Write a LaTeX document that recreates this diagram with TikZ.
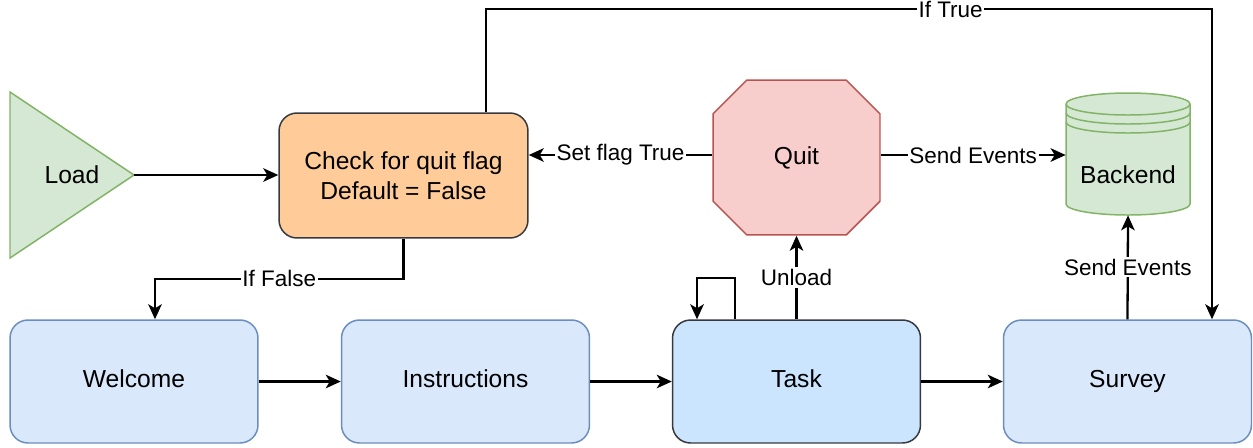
\documentclass[tikz,border=0pt]{standalone}
\usepackage{fontspec}
\setmainfont{Liberation Sans}
\usetikzlibrary{arrows.meta,shapes.misc}

\definecolor{vertfond}{HTML}{D5E8D4}
\definecolor{verttrait}{HTML}{82B366}
\definecolor{bleufond}{HTML}{DAE8FC}
\definecolor{bleutrait}{HTML}{6C8EBF}
\definecolor{tachefond}{HTML}{CCE5FF}
\definecolor{grisfonce}{HTML}{36393D}
\definecolor{orangefond}{HTML}{FFCC99}
\definecolor{rosefond}{HTML}{F8CECC}
\definecolor{rougetrait}{HTML}{B85450}

\begin{document}
\begin{tikzpicture}[x=0.02cm, y=0.02cm,
    etape/.style={draw=bleutrait, fill=bleufond, line width=0.85pt, rounded corners=0.36cm,
        minimum width=4.96cm, minimum height=2.46cm, text height=1.38ex, text depth=0pt,
        font=\fontsize{14}{17}\selectfont},
    fleche/.style={line width=1.3pt, -{Stealth[length=0.3cm, width=0.27cm, inset=0.08cm]}},
    etiq/.style={fill=white, inner sep=1pt, font=\fontsize{12.8}{15}\selectfont}]
        \useasboundingbox (0, 0) rectangle (1253, -447);

        % Triangle de chargement
        \draw[draw=verttrait, fill=vertfond, line width=0.85pt] (10, -92) -- (134, -175) -- (10, -258) -- cycle;
        \node[font=\fontsize{14}{17}\selectfont] (load) at (72, -175) {Load};
        \coordinate (loadtip) at (134, -175);

        % Test du drapeau
        \node[etape, draw=grisfonce, fill=orangefond, minimum width=4.98cm, minimum height=2.5cm,
            text height=, text depth=, align=center] (check) at (403.5, -175.5) {Check for quit flag\\Default = False};

        % Octogone Quit
        \node[chamfered rectangle, chamfered rectangle xsep=0.64cm, chamfered rectangle ysep=0.64cm,
            draw=rougetrait, fill=rosefond, line width=0.85pt, minimum width=3.34cm, minimum height=3.1cm,
            inner sep=0pt, font=\fontsize{14}{17}\selectfont] (quit) at (796.5, -157.5) {Quit};

        % Base de donnees
        \draw[draw=verttrait, fill=vertfond, line width=0.85pt] (1066, -104) -- (1066, -204)
            arc[start angle=180, end angle=360, x radius=62, y radius=11] -- (1190, -104)
            arc[start angle=0, end angle=180, x radius=62, y radius=11] -- cycle;
        \draw[draw=verttrait, line width=0.85pt] (1066, -104) arc[start angle=180, end angle=360, x radius=62, y radius=11];
        \draw[draw=verttrait, line width=0.85pt] (1066, -113) arc[start angle=180, end angle=360, x radius=62, y radius=11];
        \draw[draw=verttrait, line width=0.85pt] (1066, -122) arc[start angle=180, end angle=360, x radius=62, y radius=11];
        \node[minimum width=2.48cm, minimum height=2.44cm] (backend) at (1128, -154) {};
        \node[font=\fontsize{14}{17}\selectfont] (backendtxt) at (1128, -175) {Backend};

        % Etapes du bas
        \node[etape] (welcome) at (134, -381.5) {Welcome};
        \node[etape] (instructions) at (465.5, -381.5) {Instructions};
        \node[etape, draw=grisfonce, fill=tachefond] (task) at (796.5, -381.5) {Task};
        \node[etape] (survey) at (1127.5, -381.5) {Survey};

        % Connexions
        \draw[fleche] (loadtip) -- (loadtip -| check.west);
        \draw[fleche] ([yshift=0.05cm]quit.west) -- ([yshift=0.05cm]quit.west -| check.east) node[etiq, midway] {Set flag True};
        \draw[fleche] ([yshift=0.05cm]quit.east) -- ([yshift=0.05cm]quit.east -| backend.west) node[etiq, midway] {Send Events};
        \draw[fleche] (check.south) -- ++(0, -40) -| node[etiq, pos=0.25] {If False} ([xshift=0.42cm]welcome.north);
        \draw[fleche] ([xshift=1.65cm]check.north) -- ++(0, 103) -| node[etiq, pos=0.32] {If True} ([xshift=1.69cm]survey.north);
        \draw[fleche] (welcome) -- (instructions);
        \draw[fleche] (instructions) -- (task);
        \draw[fleche] (task) -- (survey);
        \draw[fleche] (task.north) -- (quit.south) node[etiq, midway] {Unload};
        \draw[fleche] (survey.north) -- (backend.south) node[etiq, midway] {Send Events};

        % Boucle sur la tache
        \draw[fleche] ([xshift=-1.23cm]task.north) -- ++(0, 41) -| ([xshift=-1.99cm]task.north);
    \end{tikzpicture}
\end{document}
